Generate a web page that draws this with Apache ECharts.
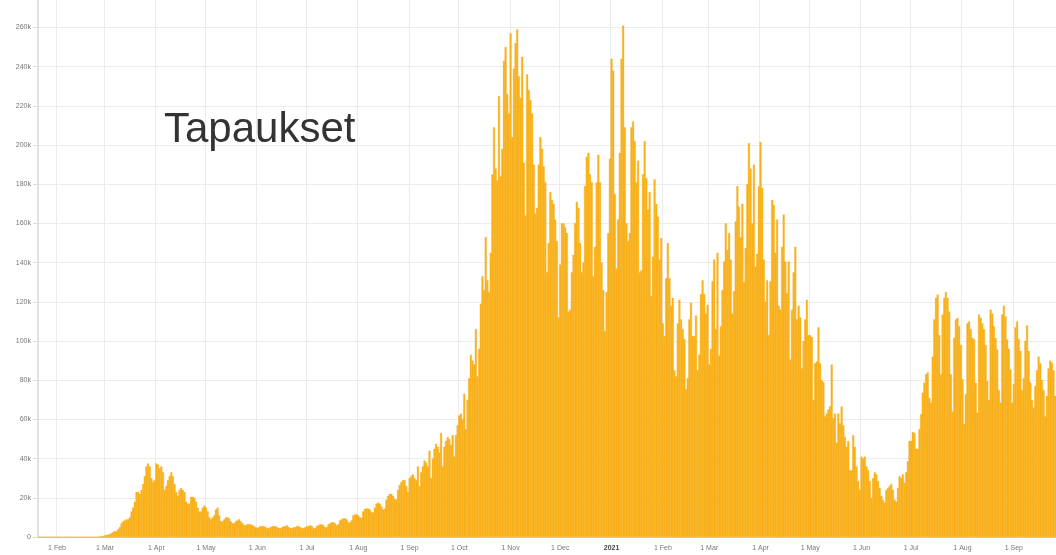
<!DOCTYPE html>
<html>
<head>
<meta charset="utf-8">
<script src="https://cdn.jsdelivr.net/npm/echarts@6/dist/echarts.min.js"></script>
<style>
html, body { margin: 0; padding: 0; background: #fff; }
#chart { width: 1056px; height: 555px; }
</style>
</head>
<body>
<div id="chart"></div>
<script>
// päivittäiset tapaukset tuhansina, kuukausi kerrallaan (alkaa 21.1.2020)
const jan20 = [0, 0, 0, 0, 0, 0, 0, 0, 0, 0, 0]
const feb20 = [0, 0, 0, 0, 0, 0, 0, 0, 0, 0, 0, 0, 0, 0, 0, 0, 0, 0, 0, 0, 0.02, 0.05, 0.08, 0.1, 0.15, 0.2, 0.3, 0.4, 0.6]
const mar20 = [0.8, 1, 1.2, 1.5, 2, 2.5, 3, 3, 4, 5, 7, 8, 8.5, 9, 9, 10, 13, 15, 18, 23, 23, 22, 24, 27, 31, 36, 37.5, 36, 30, 28, 29]
const apr20 = [37.5, 37, 35, 36, 33, 24, 26, 29, 31, 33, 31, 27, 23, 21, 24, 25, 24, 23, 18, 17, 17, 20.5, 20.5, 20, 18, 15, 13, 13, 15, 16]
const may20 = [15, 13, 10, 9, 10, 11, 14, 15, 11, 8, 8, 9, 10, 10, 9.5, 8, 7, 7, 8, 8.5, 9, 8, 7, 6, 6, 6.5, 6.5, 6.5, 6, 5.5, 5]
const jun20 = [4.5, 5, 5.5, 5.5, 5.5, 5, 4.5, 4.5, 5, 5.5, 5.5, 5.5, 5, 4.5, 4.5, 5, 5.5, 5.5, 6, 5, 4.5, 4.5, 5, 5, 5.5, 5.5, 5, 4.5, 4.5, 5]
const jul20 = [5.5, 5.5, 6, 5.5, 4.5, 4.5, 5.5, 6, 6.5, 6.5, 6, 5, 5, 6.5, 7, 7.5, 7.5, 7, 6, 6.5, 8.5, 9, 9.5, 9.5, 9, 7.5, 7.5, 8.5, 11, 11.5, 11.5]
const aug20 = [11, 10, 9.8, 13, 14.4, 14.5, 14.5, 14, 12.7, 12.5, 15, 17, 17.5, 17, 15.5, 14, 14.5, 19, 21, 22, 22, 21, 19.5, 19, 24, 26.5, 28, 29, 29, 26, 23]
const sep20 = [30, 31, 32, 30, 29, 36, 26, 33, 36, 39, 38, 36, 44, 30, 40, 45, 47.5, 46, 43, 53, 36, 46, 49, 51, 50, 47, 52, 41, 52, 57]
const oct20 = [62, 63, 60, 73, 55, 70, 81, 93, 90, 88, 106, 82, 96, 119, 133, 126, 153, 131, 125, 145, 185, 209, 188, 182, 225, 184, 198, 243, 250, 226, 216]
const nov20 = [257, 204, 239, 252, 259, 235, 224, 245, 191, 164, 236, 228, 223, 216, 190, 165, 168, 190, 204, 198, 189, 181, 135, 150, 176, 172, 170, 162, 151, 112]
const dec20 = [139, 160, 160, 158, 155, 115, 116, 135, 144, 160, 171, 168, 150, 135, 140, 179, 194, 196, 185, 181, 133, 148, 181, 195, 181, 140, 126, 105, 125, 155, 193]
const jan21 = [244, 238, 175, 137, 162, 196, 244, 261, 209, 160, 151, 155, 209, 212, 202, 181, 192, 135, 136, 185, 202, 183, 167, 176, 123, 143, 182.5, 170, 163.5, 141.5, 152.5]
const feb21 = [109, 102.5, 132, 150, 132, 118, 122, 85, 82, 109, 121, 111, 106, 101, 75.5, 81, 111, 119.5, 102.5, 102.5, 113, 85, 93, 124, 131, 124, 114, 118.5]
const mar21 = [88, 96, 130.5, 141.5, 106, 145, 92.5, 107.5, 126, 140.5, 160, 146.5, 155, 141.5, 114, 125.5, 161, 179, 168.5, 153, 170, 130, 147.5, 180, 201, 188, 160, 190, 138, 144.5, 179]
const apr21 = [201.5, 178, 141.5, 120, 131, 103, 130.5, 172, 169.5, 145, 162, 118, 116, 148, 164.5, 140.5, 124.5, 140.5, 90.5, 116, 135, 148, 111, 118, 112, 86, 100, 111, 121, 103]
const may21 = [103, 102, 70, 88.6, 89.5, 107, 88.6, 80, 79, 61.5, 63, 65, 66.6, 88, 60.7, 63, 48, 63, 58, 66.6, 57, 51, 46, 49, 34, 34, 52, 46, 36, 28.5, 24]
const jun21 = [41, 40, 41, 36, 34, 28.5, 20, 30, 33, 32, 28.5, 25, 21, 19, 17.5, 24, 25, 26, 27, 24, 19, 18, 25, 31, 30, 32, 27.6, 33, 38.6, 49]
const jul21 = [49, 53.6, 53, 45, 45, 55, 62.6, 73.6, 78.7, 83, 84, 71, 68.5, 92, 111, 122, 123.7, 103, 83, 113.5, 122, 125, 122, 115, 83, 64, 101.6, 111, 111.8, 107.5, 98]
const aug21 = [80.5, 57.6, 72.8, 109, 110, 106, 101.6, 100.8, 78.7, 63.5, 113.5, 111.8, 109, 106, 98, 79.6, 70, 116, 114, 107.5, 101.6, 95.7, 75, 68.5, 113.5, 118, 112.6, 100.8, 96, 85.5, 68.5]
const sep21 = [78, 107, 110, 101, 95, 75, 81, 100, 108, 95, 79, 70, 66, 77, 85, 92, 88.6, 80, 75, 61.5, 72, 86, 90, 89, 85, 72]

const monthNames = ['Jan', 'Feb', 'Mar', 'Apr', 'May', 'Jun', 'Jul', 'Aug', 'Sep', 'Oct', 'Nov', 'Dec']

const cases = [].concat(jan20, feb20, mar20, apr20, may20, jun20, jul20, aug20, sep20, oct20, nov20, dec20,
    jan21, feb21, mar21, apr21, may21, jun21, jul21, aug21, sep21)

// päivämäärät kategorioiksi
const days = []
const start = Date.UTC(2020, 0, 21)
for (let i = 0; i < cases.length; i++) {
    days.push(new Date(start + i * 86400000).toISOString().slice(0, 10))
}

const isMonthStart = (index, value) => value.slice(8) === '01'

let myChart = echarts.init(document.getElementById('chart'))
let option = {
    animation: false,
    textStyle: { fontFamily: 'Liberation Sans, Arial, sans-serif' },
    title: {
        text: 'Tapaukset',
        left: 164,
        top: 109,
        padding: 0,
        textStyle: { fontSize: 42, fontWeight: 'normal', color: '#333' }
    },
    grid: { left: 38, right: 0, top: 0, bottom: 18 },
    xAxis: {
        type: 'category',
        data: days,
        boundaryGap: true,
        axisLine: { show: true, lineStyle: { color: '#cccccc' } },
        axisTick: { interval: isMonthStart, alignWithLabel: true, length: 3, lineStyle: { color: '#cccccc' } },
        splitLine: { show: true, interval: isMonthStart, lineStyle: { color: '#ececec' } },
        axisLabel: {
            interval: isMonthStart,
            fontSize: 7,
            color: '#777',
            margin: 8,
            formatter: function (value) {
                let m = +value.slice(5, 7)
                if (m === 1) return '{y|' + value.slice(0, 4) + '}'
                return '1 ' + monthNames[m - 1]
            },
            rich: { y: { fontSize: 7, fontWeight: 'bold', color: '#444' } }
        }
    },
    yAxis: {
        type: 'value',
        min: 0,
        max: 274,
        interval: 20,
        axisLine: { show: true, lineStyle: { color: '#e2e2e2', width: 2 } },
        axisTick: { show: true, length: 5, lineStyle: { color: '#dddddd' } },
        splitLine: { showMaxLine: false, lineStyle: { color: '#ececec' } },
        axisLabel: {
            fontSize: 7,
            color: '#777',
            margin: 7,
            showMaxLabel: false,
            formatter: function (v) { return v === 0 ? '0' : v + 'k' }
        }
    },
    series: [
        {
            type: 'bar',
            data: cases,
            barWidth: 2,
            itemStyle: { color: '#fbb41c', borderColor: '#f2a30c', borderWidth: 0.3 }
        }
    ]
}
myChart.setOption(option)
</script>
</body>
</html>
